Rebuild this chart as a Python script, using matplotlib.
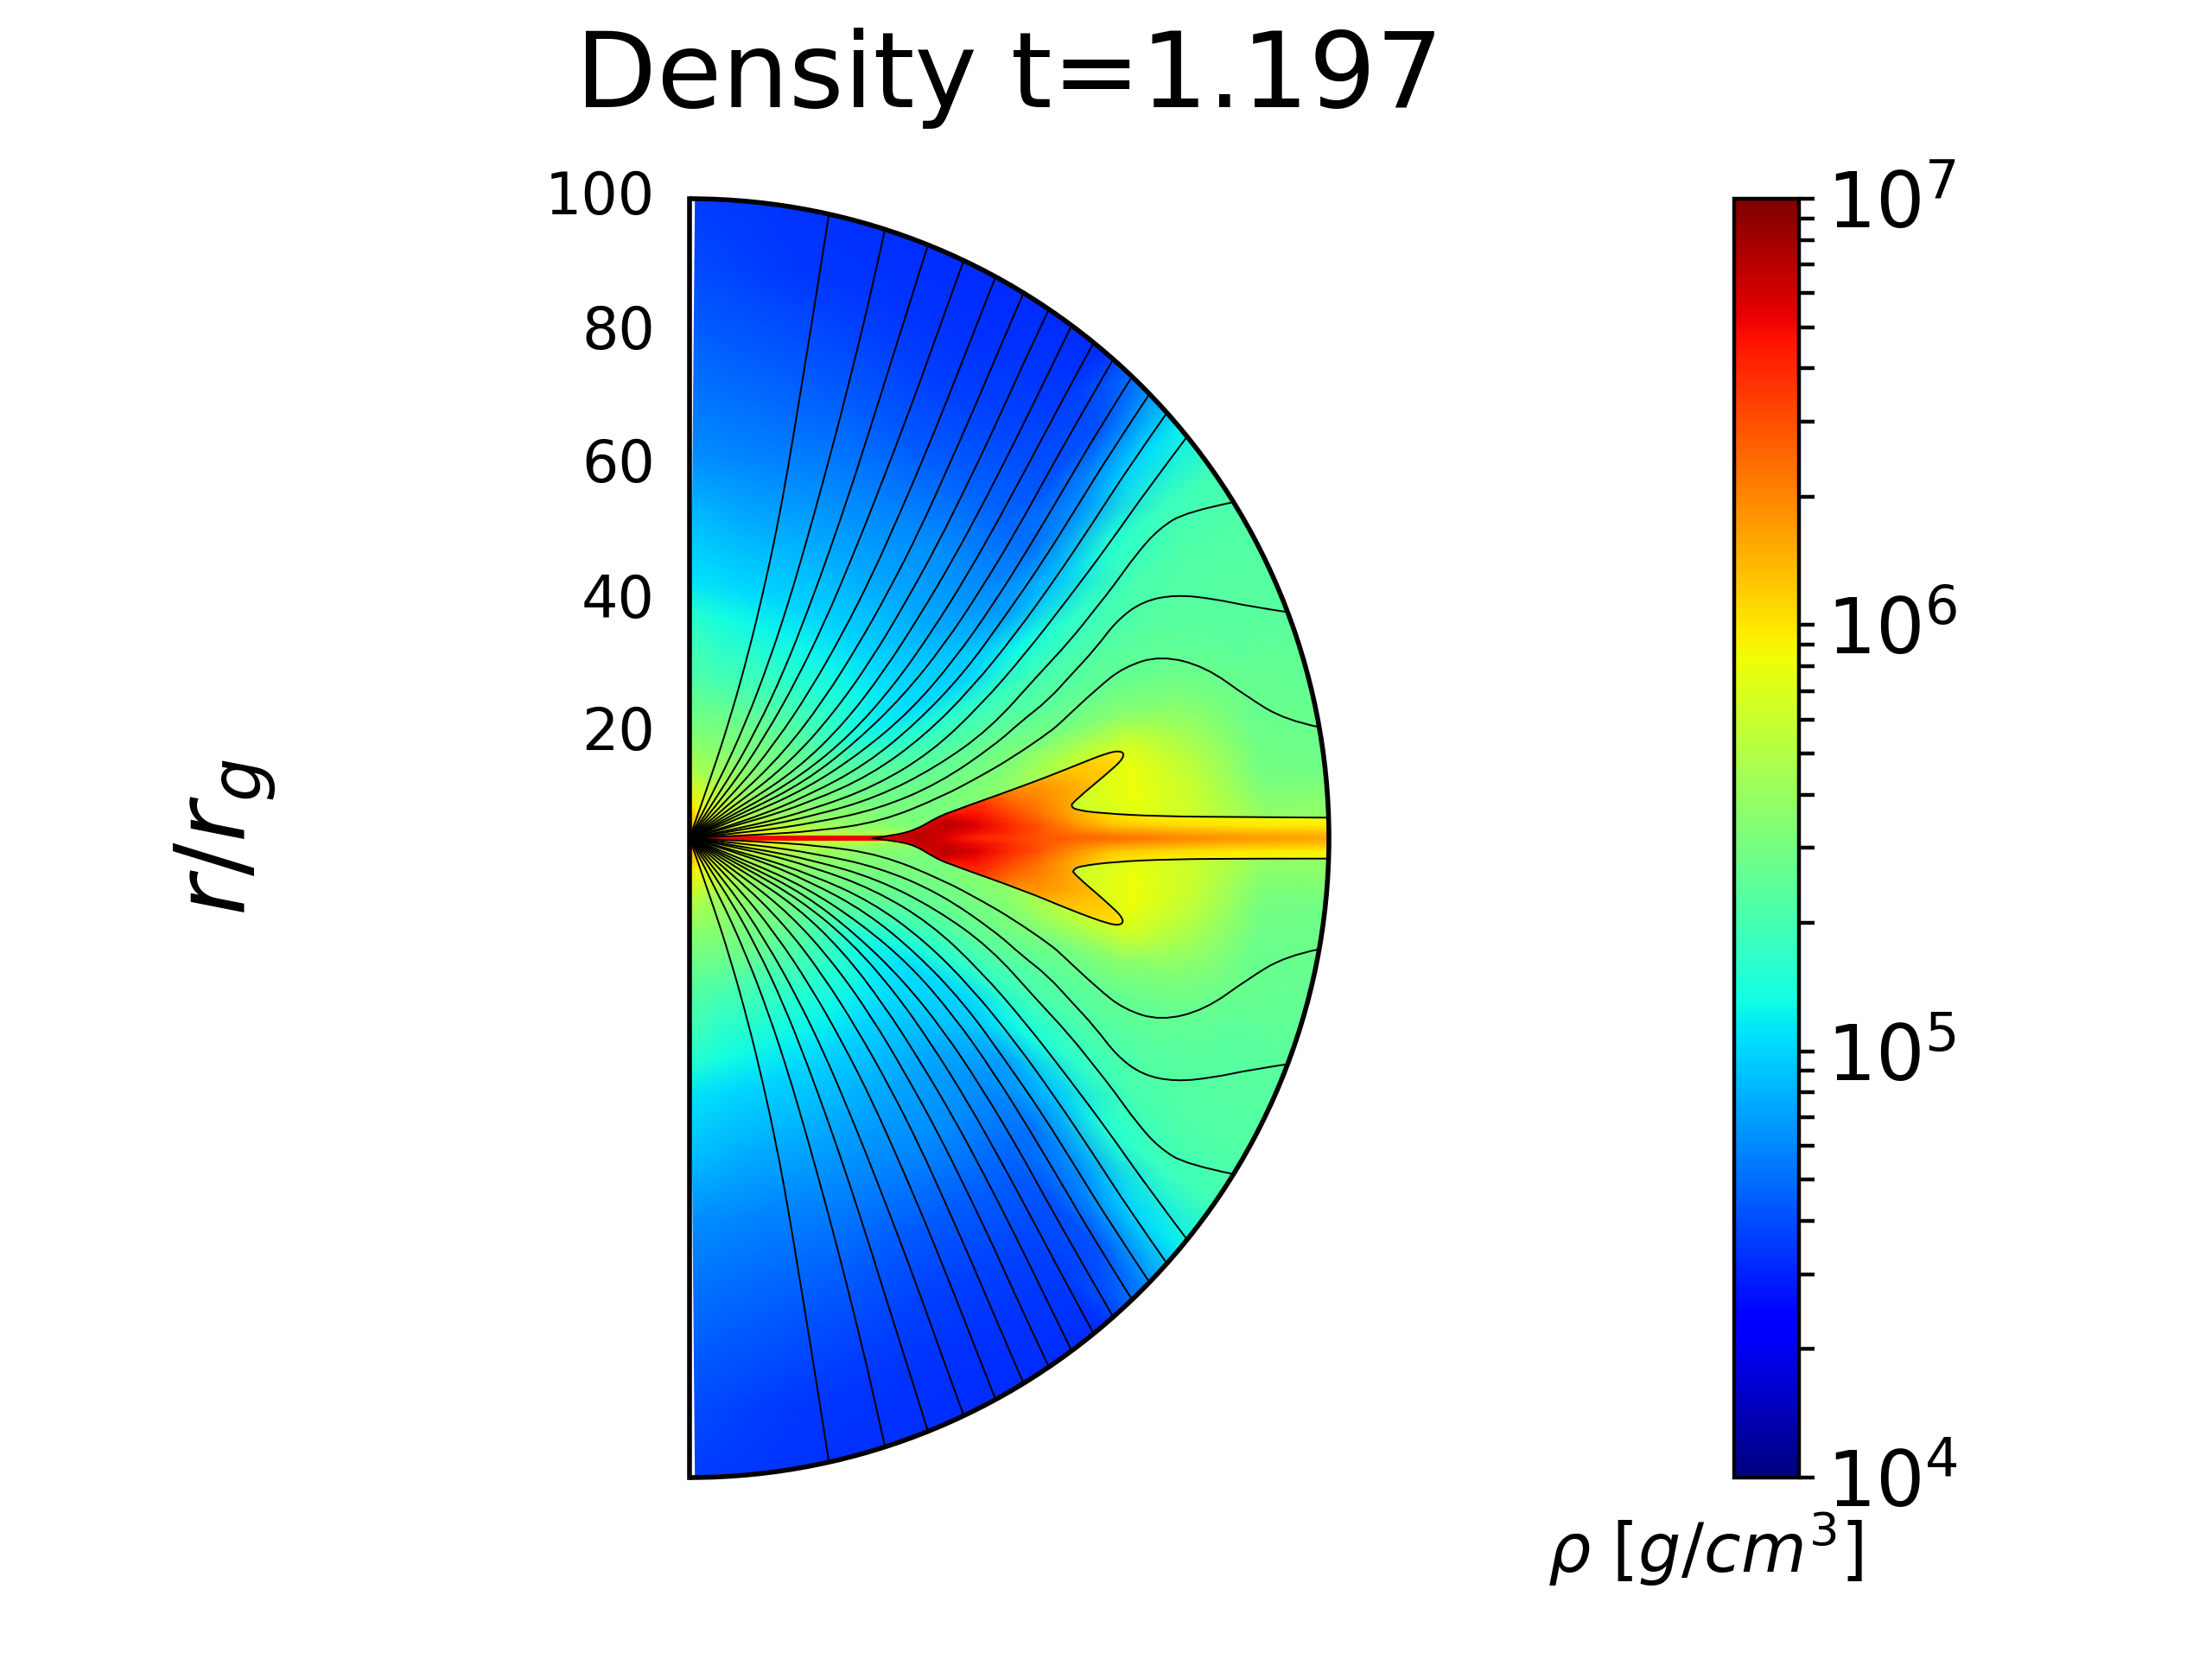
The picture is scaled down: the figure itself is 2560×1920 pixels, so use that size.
import numpy as np
import matplotlib
matplotlib.use('Agg')
import matplotlib.pyplot as plt
from matplotlib.colors import LogNorm
from matplotlib.patches import Arc, PathPatch
from matplotlib.path import Path

# log10(rho), rows are radius, columns angle above the midplane
field_r = [0.5, 2, 5, 10, 15, 20, 25, 30, 35, 40, 50, 60, 70, 80, 90, 103]
field_angle = [0, 3, 6, 9, 12, 16, 20, 25, 30, 35, 40, 45, 50, 60, 70, 80, 89.48]
field_log_rho = [
    [6.60, 6.50, 6.45, 6.45, 6.45, 6.45, 6.45, 6.45, 6.45, 6.45, 6.45, 6.45, 6.45, 6.45, 6.45, 6.45, 6.45],
    [6.40, 6.25, 6.12, 6.10, 6.05, 6.05, 6.05, 6.05, 6.05, 6.05, 6.05, 6.05, 6.05, 6.10, 6.10, 6.18, 6.25],
    [6.15, 6.02, 5.97, 5.92, 5.90, 5.88, 5.85, 5.85, 5.85, 5.85, 5.85, 5.85, 5.85, 5.85, 5.90, 5.95, 6.00],
    [6.05, 5.98, 5.90, 5.80, 5.74, 5.70, 5.67, 5.65, 5.63, 5.63, 5.63, 5.63, 5.63, 5.65, 5.65, 5.67, 5.72],
    [5.95, 5.85, 5.75, 5.68, 5.62, 5.60, 5.56, 5.54, 5.52, 5.52, 5.52, 5.52, 5.52, 5.52, 5.54, 5.54, 5.54],
    [5.85, 5.72, 5.62, 5.58, 5.56, 5.52, 5.50, 5.46, 5.45, 5.44, 5.44, 5.44, 5.44, 5.44, 5.44, 5.44, 5.45],
    [5.80, 5.62, 5.56, 5.54, 5.51, 5.47, 5.44, 5.38, 5.34, 5.31, 5.31, 5.31, 5.31, 5.31, 5.31, 5.31, 5.34],
    [5.75, 5.56, 5.52, 5.50, 5.46, 5.44, 5.38, 5.31, 5.18, 5.17, 5.19, 5.19, 5.19, 5.19, 5.21, 5.21, 5.28],
    [5.70, 5.52, 5.48, 5.48, 5.45, 5.40, 5.34, 5.20, 5.08, 5.07, 5.09, 5.09, 5.09, 5.09, 5.09, 5.12, 5.19],
    [5.70, 5.52, 5.48, 5.48, 5.46, 5.40, 5.32, 5.18, 5.03, 5.02, 5.01, 5.00, 5.00, 5.00, 5.00, 5.01, 5.05],
    [5.70, 5.56, 5.56, 5.56, 5.52, 5.47, 5.38, 5.22, 5.00, 4.95, 4.89, 4.87, 4.87, 4.87, 4.89, 4.89, 4.93],
    [5.78, 5.75, 5.80, 5.77, 5.70, 5.48, 5.39, 5.31, 5.12, 4.85, 4.79, 4.79, 4.79, 4.77, 4.77, 4.77, 4.79],
    [5.88, 5.88, 5.92, 5.90, 5.82, 5.55, 5.42, 5.34, 5.23, 4.96, 4.72, 4.67, 4.67, 4.65, 4.67, 4.69, 4.72],
    [5.80, 5.78, 5.75, 5.70, 5.62, 5.50, 5.42, 5.36, 5.31, 5.18, 4.82, 4.62, 4.59, 4.57, 4.59, 4.62, 4.65],
    [5.62, 5.56, 5.48, 5.46, 5.44, 5.42, 5.38, 5.36, 5.34, 5.26, 5.00, 4.62, 4.54, 4.52, 4.53, 4.55, 4.59],
    [5.56, 5.56, 5.46, 5.44, 5.42, 5.40, 5.38, 5.36, 5.34, 5.29, 5.09, 4.79, 4.50, 4.50, 4.51, 4.52, 4.54],
]

# dense disc, only shown inside its contour
disc_x = [0, 28, 32, 36, 40, 45, 50, 55, 60, 66, 75, 85, 100]
disc_y = [0, 1, 2, 3, 4, 6, 8, 10, 14]
disc_log_rho = [
    [6.70, 6.70, 6.70, 6.70, 6.70, 6.70, 6.70, 6.70, 6.70],
    [6.72, 6.70, 6.70, 6.70, 6.70, 6.70, 6.70, 6.70, 6.70],
    [6.78, 6.75, 6.70, 6.70, 6.70, 6.70, 6.70, 6.70, 6.70],
    [6.85, 6.82, 6.72, 6.70, 6.70, 6.70, 6.70, 6.70, 6.70],
    [6.75, 6.80, 6.85, 6.80, 6.65, 6.55, 6.50, 6.50, 6.50],
    [6.60, 6.70, 6.75, 6.70, 6.65, 6.55, 6.45, 6.40, 6.40],
    [6.55, 6.60, 6.60, 6.55, 6.50, 6.40, 6.25, 6.20, 6.20],
    [6.45, 6.45, 6.45, 6.40, 6.35, 6.30, 6.25, 6.15, 6.10],
    [6.42, 6.35, 6.28, 6.22, 6.18, 6.18, 6.18, 6.12, 6.05],
    [6.38, 6.25, 6.12, 6.05, 6.02, 6.05, 6.08, 6.08, 6.00],
    [6.32, 6.20, 6.05, 5.98, 5.96, 5.96, 5.96, 5.96, 5.96],
    [6.26, 6.14, 6.00, 5.95, 5.94, 5.94, 5.94, 5.94, 5.94],
    [6.20, 6.10, 5.98, 5.92, 5.91, 5.91, 5.91, 5.91, 5.91],
]

# disc contour
edge_up_x = [28.5, 31.9, 35.4, 38.1, 40.2, 52.6, 59.5, 65.7, 67.8, 67.9, 66.4, 59.9, 59.7, 60.6, 64.3, 73.3, 87.1, 100]
edge_up_y = [0, 0.4, 1.3, 2.9, 3.9, 8.3, 11, 13.5, 13.6, 12.6, 11, 5.6, 4.9, 4.4, 3.9, 3.4, 3.3, 3.2]
edge_low_x = [28.5, 31.9, 35.2, 38.1, 40.2, 52.6, 59.5, 66, 67.7, 67.8, 66.4, 60, 60, 60.9, 66.4, 75, 87.1, 100]
edge_low_y = [0, 0.4, 1.1, 2.9, 3.9, 8.3, 11.2, 13.6, 13.5, 12.6, 11, 5.5, 5, 4.4, 3.7, 3.3, 3.2, 3.2]
# thin red sheet that runs in to the centre
sheet_x = [3, 15, 28]
sheet_y = [0.25, 0.35, 0.4]

# field lines, angle above the midplane at each radius
line_r = [0, 10, 20, 30, 40, 50, 60, 70, 80, 90, 100]
line_angle = [
    [70, 70.5, 71.3, 72.3, 73.3, 74.2, 75.1, 75.9, 76.5, 77, 77.4],
    [62, 62.5, 64, 65.7, 67.2, 68.5, 69.5, 70.3, 71, 71.6, 72.2],
    [55, 56, 58.3, 60.5, 62.5, 64, 65.2, 66.2, 67, 67.6, 68.1],
    [49, 50.5, 53.5, 55.9, 58, 59.8, 61.2, 62.3, 63.2, 64, 64.6],
    [44, 45, 48, 50.8, 53.2, 55.2, 57, 58.4, 59.6, 60.6, 61.4],
    [39, 40, 42.3, 45.8, 48.8, 51.2, 53.2, 55, 56.4, 57.6, 58.5],
    [35, 35.5, 37.2, 41, 44.5, 47.5, 49.8, 51.8, 53.4, 54.8, 55.8],
    [31, 31.5, 32.6, 36.5, 40.6, 44, 46.6, 48.8, 50.6, 52.1, 53.3],
    [27.5, 27.8, 29.2, 32.7, 36.8, 40.5, 43.5, 46, 48, 49.6, 50.8],
    [24.5, 24.8, 26, 30, 33.6, 37.2, 40.5, 43.2, 45.5, 47.2, 48.5],
    [21, 21.5, 23, 26.5, 30, 34, 37.6, 40.6, 43, 44.9, 46.2],
    [17.5, 17, 19.8, 22.7, 27, 31, 35, 38, 40.6, 42.6, 44],
    [14.5, 14.8, 16.7, 19.2, 23.5, 28, 32, 35.3, 38, 40.2, 41.7],
    [11.5, 11, 13.2, 15.6, 19.5, 24.5, 28.8, 32.3, 35, 37.3, 38.9],
]
# the three lines that bend back towards the disc
bent_r = [
    [0, 10, 20, 30, 40, 50, 60, 67, 73, 77, 83, 88, 93, 100],
    [0, 10, 20, 30, 40, 50, 55, 60, 65, 70, 75, 80, 85, 90, 95, 100],
    [0, 10, 20, 30, 40, 47, 52, 59, 61, 68, 73, 79, 85, 90, 95, 100],
]
bent_angle = [
    [8.5, 8.8, 10.2, 12.3, 16, 20, 25, 27.4, 29.5, 30.7, 32.5, 33.4, 33.3, 31.7],
    [5.5, 5.7, 7, 8.8, 12.4, 17, 19.4, 21, 23.2, 25, 27, 27.6, 26.6, 24.6, 22.4, 20.7],
    [2.8, 2.8, 3.2, 4.9, 9.3, 12.2, 14, 16.5, 17.4, 20.2, 21.5, 21.2, 18.4, 14.2, 11.2, 10],
]

ylabel_pos = [100.1, 79.1, 58.2, 37.0, 16.3]
ylabel_text = ['100', '80', '60', '40', '20']


def polar_to_xy(r, angle):
    a = np.radians(angle)
    return np.asarray(r) * np.cos(a), np.asarray(r) * np.sin(a)


# draw a line as quadratic curves so the read points do not show as kinks
def draw_smooth(ax, x, y):
    pts = np.column_stack([x, y])
    verts = [pts[0]]
    codes = [Path.MOVETO]
    for i in range(1, len(pts) - 1):
        end = pts[i + 1] if i == len(pts) - 2 else (pts[i] + pts[i + 1]) / 2
        verts += [pts[i], end]
        codes += [Path.CURVE3, Path.CURVE3]
    ax.add_patch(PathPatch(Path(verts, codes), fill=False, edgecolor='k', lw=0.35))


fig = plt.figure(figsize=(6.4, 4.8))
ax = fig.add_axes([0.31172, 0.10938, 0.28906, 0.77083])
norm = LogNorm(vmin=1e4, vmax=1e7)

# background field, both hemispheres
rr, aa = np.meshgrid(field_r, field_angle, indexing='ij')
xx, yy = polar_to_xy(rr, aa)
rho = 10.0 ** np.array(field_log_rho)
circle = Path.circle((0, 0), 100)
for sign in (1, -1):
    mesh = ax.pcolormesh(xx, sign * yy, rho, cmap='jet', norm=norm, shading='gouraud')
    mesh.set_clip_path(circle, transform=ax.transData)

# disc on top, clipped to the contour
outline_x = sheet_x + edge_up_x[1:] + edge_low_x[:0:-1] + sheet_x[::-1]
outline_y = sheet_y + edge_up_y[1:] + [-v for v in edge_low_y[:0:-1]] + [-v for v in sheet_y[::-1]]
outline = Path(np.column_stack([outline_x, outline_y]))
dx, dy = np.meshgrid(disc_x, disc_y, indexing='ij')
disc_rho = 10.0 ** np.array(disc_log_rho)
for sign in (1, -1):
    mesh = ax.pcolormesh(dx, sign * dy, disc_rho, cmap='jet', norm=norm, shading='gouraud')
    mesh.set_clip_path(outline, transform=ax.transData)

# field lines
for angles in line_angle:
    lx, ly = polar_to_xy(line_r, angles)
    draw_smooth(ax, lx, ly)
    draw_smooth(ax, lx, -ly)
for r, angles in zip(bent_r, bent_angle):
    lx, ly = polar_to_xy(r, angles)
    draw_smooth(ax, lx, ly)
    draw_smooth(ax, lx, -ly)
draw_smooth(ax, edge_up_x, edge_up_y)
draw_smooth(ax, edge_low_x, [-v for v in edge_low_y])

ax.add_patch(Arc((0, 0), 200, 200, theta1=-90, theta2=90, color='k', lw=1.0, clip_on=False))

ax.set_xlim(0, 100)
ax.set_ylim(-100, 100)
ax.set_aspect('equal')
for side in ('top', 'right', 'bottom'):
    ax.spines[side].set_visible(False)
ax.spines['left'].set_linewidth(1.0)
ax.set_xticks([])
ax.set_yticks([])
# the labels sit a little off the data scale in the original, so no real ticks here
for pos, label in zip(ylabel_pos, ylabel_text):
    ax.text(-5.4, pos, label, fontsize=12, ha='right', va='center')
ax.set_title('Density t=1.197', fontsize=22, pad=19)

fig.text(0.102, 0.495, '$r/r_g$', fontsize=20.5, rotation=90, ha='center', va='center')

# colorbar
cax = fig.add_axes([0.7840, 0.10938, 0.0293, 0.77083])
cbar = fig.colorbar(plt.cm.ScalarMappable(norm=norm, cmap='jet'), cax=cax)
cbar.outline.set_linewidth(0.8)
cax.tick_params(which='both', length=3.3, width=0.8, direction='out')
cax.tick_params(which='major', labelsize=16, pad=2.5)
fig.text(0.771, 0.0427, r'$\rho\ [g/cm^3]$', fontsize=14, ha='center', va='bottom')

fig.savefig('out.png', dpi=400)
